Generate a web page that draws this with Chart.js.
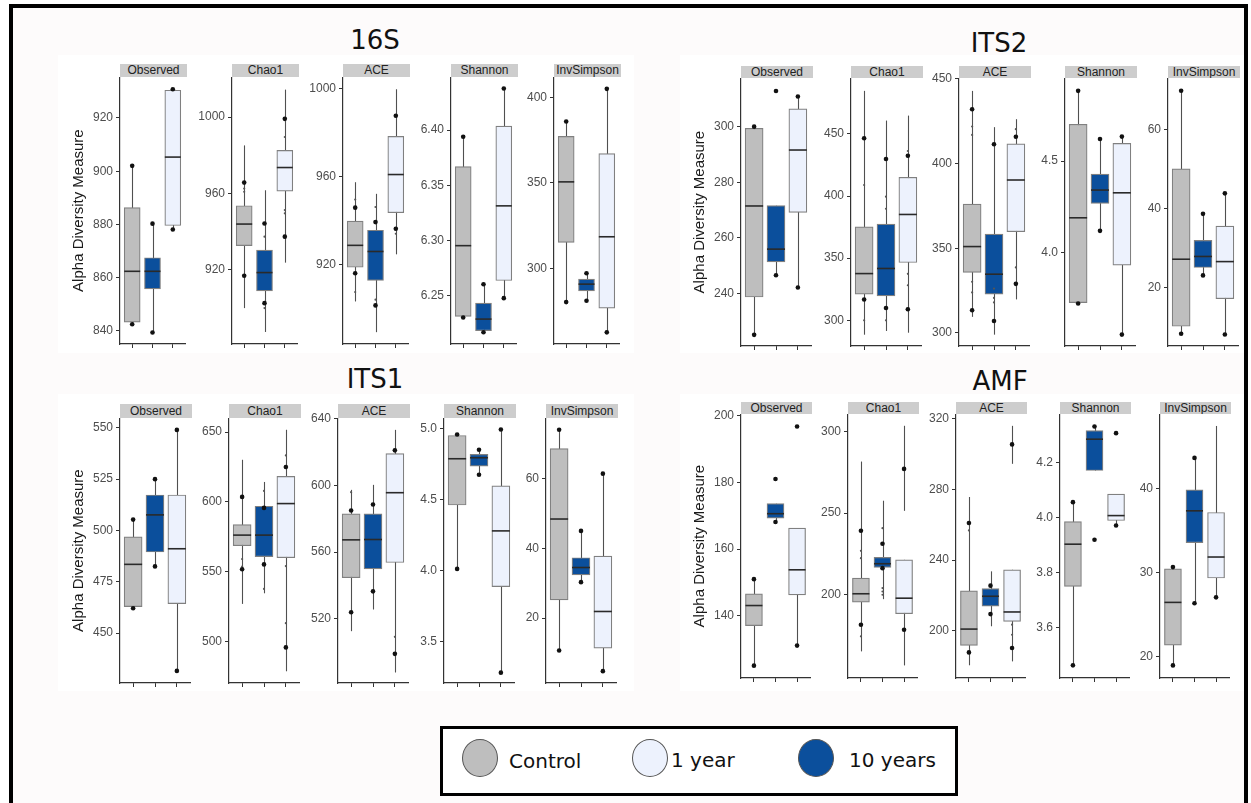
<!DOCTYPE html>
<html lang="en">
<head>
<meta charset="UTF-8">
<title>Alpha diversity - 16S, ITS2, ITS1, AMF</title>
<script src="https://cdn.jsdelivr.net/npm/chart.js"></script>
<style>
  html, body { margin: 0; padding: 0; background: #ffffff; overflow: hidden; }
  #page { position: relative; width: 1251px; height: 803px; overflow: hidden; }
  .frame { position: absolute; left: 9px; top: 4px; width: 1239px; height: 900px; box-sizing: border-box;
           border: 4px solid #000; background: #fdfbfb; }
  .bg { position: absolute; background: #ffffff; }
  .title { position: absolute; width: 200px; margin-left: -100px; text-align: center;
           font-family: "DejaVu Sans", sans-serif; font-size: 26px; line-height: 26px; color: #111; }
  .strip { position: absolute; background: #cdcdcd; color: #222; text-align: center;
           font-family: "Liberation Sans", Arial, sans-serif; font-size: 12px; overflow: hidden; }
  canvas { position: absolute; }
  .legend { position: absolute; left: 440px; top: 726px; width: 512px; height: 64px; border: 3px solid #000; background: #fff; }
  .dot { position: absolute; width: 36px; height: 38px; border-radius: 50%; border: 1.5px solid #555; box-sizing: border-box; }
  .lab { position: absolute; font-family: "DejaVu Sans", sans-serif; font-size: 20px; line-height: 20px; color: #111; }
</style>
</head>
<body>
<div id="page">
  <div class="frame"></div>
  <div class="bg" style="left:58px;top:55px;width:576px;height:298px"></div>
  <div class="bg" style="left:680px;top:55px;width:564px;height:298px"></div>
  <div class="bg" style="left:58px;top:394px;width:576px;height:297px"></div>
  <div class="bg" style="left:680px;top:394px;width:564px;height:297px"></div>

  <div class="legend">
    <div class="dot" style="left:19px;top:10px;background:#bebebe"></div>
    <div class="lab" style="left:66px;top:22px">Control</div>
    <div class="dot" style="left:189px;top:10px;background:#edf2fd"></div>
    <div class="lab" style="left:228px;top:21px">1 year</div>
    <div class="dot" style="left:355px;top:10px;background:#0b4f9c"></div>
    <div class="lab" style="left:406px;top:21px">10 years</div>
  </div>
</div>

<script>
// groups in the order they sit along each x axis
const groups = ['Control', '10 years', '1 year'];
const metrics = ['Observed', 'Chao1', 'ACE', 'Shannon', 'InvSimpson'];
const panels = ['16S', 'ITS2', 'ITS1', 'AMF'];

// each box: [lower whisker, Q1, median, Q3, upper whisker], one per group, one set per metric
const box16S = [
  [[842.5, 843.3, 862.4, 886.3, 902], [839.4, 855.8, 862.4, 867.5, 880.3], [878.1, 879.6, 905.3, 930.4, 930.8]],
  [[900, 932.7, 944, 953.6, 985.2], [887.5, 909, 918.6, 930.4, 961.7], [923.8, 961.2, 973.6, 982.6, 1014.4]],
  [[903, 918.6, 928.6, 939.7, 957.4], [889, 912.6, 925.8, 935.5, 952.1], [924.5, 943.5, 960.9, 978.3, 999.8]],
  [[6.230, 6.231, 6.2952, 6.3669, 6.394], [6.2166, 6.2181, 6.2286, 6.2431, 6.2602], [6.2476, 6.2636, 6.3313, 6.4036, 6.4377]],
  [[280.2, 315.1, 350.5, 377.1, 385.8], [281, 286.8, 290.7, 293.6, 297.1], [262.5, 276.7, 318.4, 367, 404.9]]
];
const boxITS2 = [
  [[225.2, 238.8, 271.5, 299.4, 300], [246.6, 251.4, 256, 271.6, 271.6], [242.2, 269.2, 291.6, 306.4, 310.8]],
  [[288.4, 321, 337.6, 375.3, 484.7], [291.4, 319.6, 341.7, 377.4, 460.8], [290, 346.5, 385.2, 415.1, 464.8]],
  [[309.5, 335.8, 351, 376.1, 442.9], [299, 322.9, 334.7, 358.4, 421.5], [319.8, 359.8, 390.3, 411.6, 426.2]],
  [[3.724, 3.729, 4.191, 4.70, 4.882], [4.12, 4.269, 4.342, 4.429, 4.62], [3.555, 3.933, 4.327, 4.596, 4.633]],
  [[8.3, 10.2, 27.2, 50.1, 69.9], [23.1, 25.1, 27.9, 32, 38.7], [8.1, 17.2, 26.6, 35.6, 43.9]]
];
const boxITS1 = [
  [[462.1, 462.9, 483.5, 496.9, 505.3], [482.5, 489.5, 507.6, 517.3, 525], [431.6, 464.4, 491.1, 517.3, 549]],
  [[526.9, 568.6, 576.2, 583.8, 630.2], [534.5, 560.7, 576.2, 596.9, 614.3], [478.6, 560, 598.8, 618.3, 651.7]],
  [[512.6, 544.7, 567.4, 583, 597.4], [525.6, 550, 567.6, 583, 600.4], [487.8, 553.8, 595.7, 619.1, 633.4]],
  [[4.012, 4.4625, 4.789, 4.953, 4.96], [4.676, 4.737, 4.796, 4.82, 4.852], [3.28, 3.887, 4.28, 4.598, 4.995]],
  [[10.7, 25.2, 48.4, 68.6, 74], [30.3, 32.4, 34.5, 37.3, 45], [4.8, 11.4, 21.9, 37.8, 61.4]]
];
const boxAMF = [
  [[125.1, 137.1, 143.1, 146.6, 151], [168.1, 169.3, 170.6, 173.6, 173.6], [131.1, 146.3, 153.8, 166.3, 166.3]],
  [[165.3, 195.5, 200.6, 210.2, 281.6], [197.3, 216.8, 219, 222.9, 257.6], [156.7, 188.4, 197.9, 221.4, 221.4]],
  [[180.4, 191.7, 200.9, 222.5, 275.7], [202.5, 213.9, 219.5, 223.8, 233.6], [182.6, 205.3, 210.6, 234.5, 234.5]],
  [[3.462, 3.749, 3.903, 3.985, 4.056], [4.171, 4.171, 4.285, 4.316, 4.331], [3.971, 3.989, 4.007, 4.085, 4.085]],
  [[19, 21.4, 26.5, 30.5, 30.7], [26.4, 33.6, 37.4, 39.9, 43.7], [27.1, 29.4, 31.9, 37.2, 47.5]]
];

// black points: [group position 1..3, value]
const dots16S = [
  [[1, 902], [1, 842.5], [2, 880.3], [2, 839.4], [3, 930.8], [3, 878.1]],
  [[1, 965.7], [1, 916.9], [2, 944.3], [2, 902.6], [3, 999.1], [3, 937.4]],
  [[1, 945.8], [1, 915.9], [2, 939.2], [2, 901.2], [3, 987.7], [3, 936.2]],
  [[1, 6.394], [1, 6.230], [2, 6.2602], [2, 6.2166], [3, 6.4377], [3, 6.2476]],
  [[1, 385.8], [1, 280.2], [2, 297.1], [2, 281], [3, 404.9], [3, 262.5]]
];
const dotsITS2 = [
  [[1, 300], [1, 225.2], [2, 312.8], [2, 246.6], [3, 310.8], [3, 242.2]],
  [[1, 446.5], [1, 316.7], [2, 429.8], [2, 309.9], [3, 432.5], [3, 308.9]],
  [[1, 432.1], [1, 313.4], [2, 411.4], [2, 307.1], [3, 415.8], [3, 329]],
  [[1, 4.882], [1, 3.724], [2, 4.62], [2, 4.12], [3, 4.633], [3, 3.555]],
  [[1, 69.9], [1, 8.3], [2, 38.7], [2, 23.1], [3, 43.9], [3, 8.1]]
];
const dotsITS1 = [
  [[1, 505.3], [1, 462.1], [2, 525], [2, 482.5], [3, 549], [3, 431.6]],
  [[1, 603.6], [1, 551.7], [2, 595.7], [2, 555.2], [3, 625], [3, 495.7]],
  [[1, 585], [1, 524], [2, 588.6], [2, 536.5], [3, 621.1], [3, 499]],
  [[1, 4.96], [1, 4.012], [2, 4.852], [2, 4.676], [3, 4.995], [3, 3.28]],
  [[1, 74], [1, 10.7], [2, 45], [2, 30.3], [3, 61.4], [3, 4.8]]
];
const dotsAMF = [
  [[1, 151], [1, 125.1], [2, 181], [2, 168.1], [3, 196.7], [3, 131.1]],
  [[1, 239.2], [1, 181.6], [2, 231.2], [2, 216.3], [3, 277.1], [3, 178.6]],
  [[1, 261], [1, 187.7], [2, 225.5], [2, 209.4], [3, 305.5], [3, 190.2]],
  [[1, 4.056], [1, 3.462], [2, 4.331], [2, 3.919], [3, 4.307], [3, 3.971]],
  [[1, 30.7], [1, 19], [2, 43.7], [2, 26.4], [3, 27.1]]
];

// faint small marks along the whiskers
const small16S = [
  [],
  [[1, 962.6], [1, 960.9], [2, 937.4], [2, 900], [3, 989.6], [3, 951.3], [3, 949.6]],
  [[1, 949.5], [1, 907.3], [2, 946.1], [2, 903.8], [3, 933.9]],
  [], []
];
const smallITS2 = [
  [],
  [[1, 408.9], [1, 300], [2, 399.5], [2, 389.8], [2, 300], [3, 436.3], [3, 337.4], [3, 328.2]],
  [[1, 421.9], [1, 416.9], [1, 330.2], [1, 323.9], [2, 326.2], [2, 320.7], [2, 318], [3, 420.3], [3, 338.7]],
  [], []
];
const smallITS1 = [
  [],
  [[1, 559], [1, 553.6], [2, 607.9], [2, 537.6], [3, 633.3], [3, 554], [3, 513.1]],
  [[1, 596], [3, 509.2]],
  [], []
];
const smallAMF = [
  [],
  [[1, 226.9], [1, 222.4], [1, 174.5], [2, 240.8], [2, 204.1], [2, 202], [2, 200]],
  [[1, 256.8], [3, 203.4], [3, 197.7]],
  [], []
];

// detached whisker pieces: [group position, from, to]
const extraAMF = [[], [[3, 251.4, 303.5]], [[3, 294.5, 316]], [], []];

// y tick labels and axis limits per metric
const ticks16S = [['840', '860', '880', '900', '920'], ['920', '960', '1000'], ['920', '960', '1000'], ['6.25', '6.30', '6.35', '6.40'], ['300', '350', '400']];
const ticksITS2 = [['240', '260', '280', '300'], ['300', '350', '400', '450'], ['300', '350', '400', '450'], ['4.0', '4.5'], ['20', '40', '60']];
const ticksITS1 = [['450', '475', '500', '525', '550'], ['500', '550', '600', '650'], ['520', '560', '600', '640'], ['3.5', '4.0', '4.5', '5.0'], ['20', '40', '60']];
const ticksAMF = [['140', '160', '180', '200'], ['200', '250', '300'], ['200', '240', '280', '320'], ['3.6', '3.8', '4.0', '4.2'], ['20', '30', '40']];

const range16S = [[835.1, 935.3], [881.2, 1020.9], [883.6, 1005.3], [6.206, 6.448], [255.7, 411.7]];
const rangeITS2 = [[221.2, 317.4], [279.3, 494.9], [292.3, 450.4], [3.493, 4.951], [5.2, 73.1]];
const rangeITS1 = [[425.7, 554.7], [470.2, 660], [481.5, 640.4], [3.207, 5.075], [1.4, 77.3]];
const rangeAMF = [[121.4, 200.4], [149, 310.6], [173.2, 322.6], [3.416, 4.376], [17.5, 48.9]];

// layout (page pixels)
const rows = [
  { name: '16S',  box: box16S,  dots: dots16S,  small: small16S,  extra: [[], [], [], [], []], ticks: ticks16S,  range: range16S,
    title: [375, 27],  stripTop: 64,  top: 77,  bottom: 344, lefts: [120, 232, 343, 451, 554], width: 67 },
  { name: 'ITS2', box: boxITS2, dots: dotsITS2, small: smallITS2, extra: [[], [], [], [], []], ticks: ticksITS2, range: rangeITS2,
    title: [999, 30],  stripTop: 66,  top: 78,  bottom: 346, lefts: [741, 851, 959, 1065, 1168], width: 72 },
  { name: 'ITS1', box: boxITS1, dots: dotsITS1, small: smallITS1, extra: [[], [], [], [], []], ticks: ticksITS1, range: rangeITS1,
    title: [375, 366], stripTop: 404, top: 418, bottom: 683, lefts: [120, 229, 338, 444, 546], width: 72 },
  { name: 'AMF',  box: boxAMF,  dots: dotsAMF,  small: smallAMF,  extra: extraAMF, ticks: ticksAMF,  range: rangeAMF,
    title: [1000, 368], stripTop: 402, top: 414, bottom: 678, lefts: [741, 848, 956, 1060, 1160], width: 71 }
];

const fills = ['#bebebe', '#0b4f9c', '#edf2fd'];
const page = document.getElementById('page');

Chart.defaults.font.family = '"Liberation Sans", Arial, sans-serif';
Chart.defaults.devicePixelRatio = 1;
Chart.defaults.animation = false;

// whiskers under the boxes, medians on top of them
function boxParts(box, extra) {
  return {
    id: 'boxParts',
    beforeDatasetsDraw(chart) {
      const { ctx, scales: { x, y } } = chart;
      ctx.save();
      ctx.strokeStyle = '#505050';
      ctx.lineWidth = 1.1;
      box.forEach((b, i) => {
        const px = Math.round(x.getPixelForValue(i + 1)) + 0.5;
        ctx.beginPath();
        ctx.moveTo(px, y.getPixelForValue(b[0]));
        ctx.lineTo(px, y.getPixelForValue(b[4]));
        ctx.stroke();
      });
      extra.forEach(s => {
        const px = Math.round(x.getPixelForValue(s[0])) + 0.5;
        ctx.beginPath();
        ctx.moveTo(px, y.getPixelForValue(s[1]));
        ctx.lineTo(px, y.getPixelForValue(s[2]));
        ctx.stroke();
      });
      ctx.restore();
    },
    afterDatasetDraw(chart, args) {
      if (args.meta.type !== 'bar') return;
      const { ctx, scales: { y } } = chart;
      ctx.save();
      ctx.strokeStyle = '#2a2a2a';
      ctx.lineWidth = 1.6;
      args.meta.data.forEach((bar, i) => {
        const py = y.getPixelForValue(box[i][2]);
        ctx.beginPath();
        ctx.moveTo(bar.x - bar.width / 2, py);
        ctx.lineTo(bar.x + bar.width / 2, py);
        ctx.stroke();
      });
      ctx.restore();
    }
  };
}

function makeFacet(row, m) {
  const L = row.lefts[m], W = row.width, T = row.top, B = row.bottom;
  const axisW = 62, padT = 10, xAxisH = 6, padB = 6;
  const unit = W / 3.2;
  const tickLabels = row.ticks[m];

  const strip = document.createElement('div');
  strip.className = 'strip';
  strip.style.cssText = `left:${L}px;top:${row.stripTop}px;width:${W}px;height:${T - row.stripTop}px;line-height:${T - row.stripTop}px`;
  strip.textContent = metrics[m];
  page.appendChild(strip);

  const canvas = document.createElement('canvas');
  canvas.width = axisW + W + 2;
  canvas.height = padT + (B - T) + xAxisH + padB;
  canvas.style.left = (L - axisW) + 'px';
  canvas.style.top = (T - padT) + 'px';
  canvas.style.width = canvas.width + 'px';
  canvas.style.height = canvas.height + 'px';
  page.appendChild(canvas);

  new Chart(canvas, {
    type: 'bar',
    data: {
      datasets: [
        {
          type: 'scatter', order: 1,
          data: row.dots[m].map(d => ({ x: d[0], y: d[1] })),
          pointRadius: 2.3, pointBackgroundColor: '#111', pointBorderWidth: 0
        },
        {
          type: 'scatter', order: 2,
          data: row.small[m].map(d => ({ x: d[0], y: d[1] })),
          pointRadius: 1.1, pointBackgroundColor: '#555', pointBorderWidth: 0
        },
        {
          type: 'bar', order: 3,
          data: row.box[m].map((b, i) => ({ x: i + 1, y: [b[1], b[3]] })),
          backgroundColor: fills,
          borderColor: '#808080',
          borderWidth: 1.2,
          borderSkipped: false,
          barThickness: Math.round(unit * 0.78)
        }
      ]
    },
    options: {
      responsive: false,
      events: [],
      layout: { padding: { top: padT, right: 2, bottom: padB, left: 0 } },
      plugins: { legend: { display: false }, tooltip: { enabled: false } },
      scales: {
        x: {
          type: 'linear', min: 0.4, max: 3.6, offset: false,
          afterBuildTicks: s => { s.ticks = groups.map((g, i) => ({ value: i + 1 })); },
          afterFit: s => { s.height = xAxisH; },
          ticks: { display: false },
          grid: { offset: false, drawOnChartArea: false, drawTicks: true, tickLength: 4, color: '#333' },
          border: { display: true, color: '#333', width: 1.2 }
        },
        y: {
          type: 'linear', min: row.range[m][0], max: row.range[m][1],
          afterBuildTicks: s => { s.ticks = tickLabels.map(t => ({ value: parseFloat(t) })); },
          afterFit: s => { s.width = axisW; },
          ticks: { color: '#4d4d4d', font: { size: 12 }, padding: 3, callback: (v, i) => tickLabels[i] },
          grid: { drawOnChartArea: false, drawTicks: true, tickLength: 4, color: '#333' },
          border: { display: true, color: '#333', width: 1.2 },
          title: {
            display: m === 0, text: 'Alpha Diversity Measure', color: '#1a1a1a',
            font: { size: 15 }, padding: { top: 12, bottom: 0 }
          }
        }
      }
    },
    plugins: [boxParts(row.box[m], row.extra[m])]
  });
}

rows.forEach(row => {
  const t = document.createElement('div');
  t.className = 'title';
  t.style.left = row.title[0] + 'px';
  t.style.top = row.title[1] + 'px';
  t.textContent = row.name;
  page.appendChild(t);
  metrics.forEach((_, m) => makeFacet(row, m));
});
</script>
</body>
</html>
